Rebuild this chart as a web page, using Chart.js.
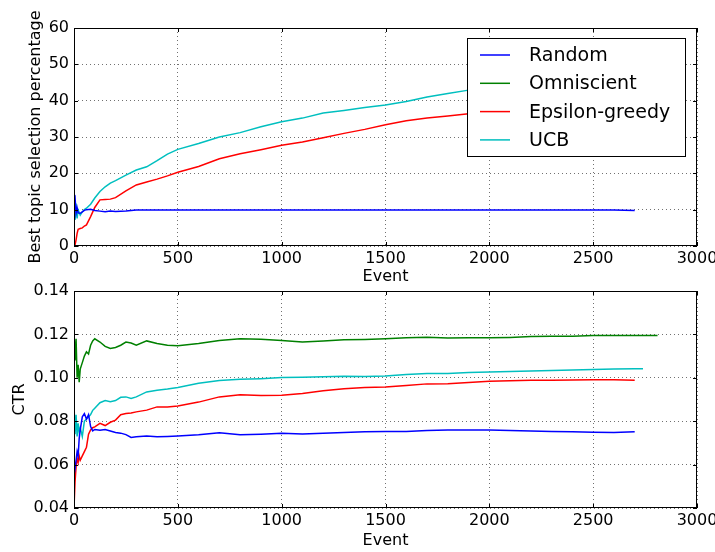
<!DOCTYPE html>
<html>
<head>
<meta charset="utf-8">
<script src="https://cdn.jsdelivr.net/npm/chart.js@4"></script>
<style>
  html, body { margin: 0; padding: 0; background: #fff; }
  #wrap { position: relative; width: 715px; height: 552px; overflow: hidden; }
  canvas { position: absolute; left: 0; }
  #topChart { top: 0; }
  #ctrChart { top: 270px; }
</style>
</head>
<body>
<div id="wrap">
  <canvas id="topChart" width="715" height="290"></canvas>
  <canvas id="ctrChart" width="715" height="282"></canvas>
</div>
<script>
// --- data ---
const seriesNames = ['Random', 'Omniscient', 'Epsilon-greedy', 'UCB'];
const seriesColors = ['#0000ff', '#008000', '#ff0000', '#00bfbf'];

const xTicks = [0, 500, 1000, 1500, 2000, 2500, 3000];
const topYTicks = [0, 10, 20, 30, 40, 50, 60];
const ctrYTicks = [0.04, 0.06, 0.08, 0.10, 0.12, 0.14];

// top plot: best topic selection percentage
const topEvents = [0, 5, 10, 15, 20, 30, 40, 50, 60, 80, 100, 125, 150, 175, 200, 250, 300, 350, 400, 450,
  500, 600, 700, 800, 900, 1000, 1100, 1200, 1300, 1400, 1500, 1600, 1700, 1800, 1900, 2000,
  2100, 2200, 2300, 2400, 2500, 2600, 2700];
const topRandom = [13.0, 13.5, 9.0, 10.5, 9.1, 9.0, 9.4, 9.8, 10.0, 10.1, 9.8, 9.6, 9.4, 9.6, 9.5, 9.6, 9.9, 9.9, 9.9, 9.9,
  9.9, 9.9, 9.9, 9.9, 9.9, 9.9, 9.9, 9.9, 9.9, 9.9, 9.9, 9.9, 9.9, 9.9, 9.9, 9.9,
  9.9, 9.9, 9.9, 9.9, 9.9, 9.9, 9.8];
const topOmniscient = [];
const topEpsilon = [0.0, 0.3, 1.7, 3.5, 4.6, 4.8, 5.0, 5.5, 5.8, 8.1, 10.6, 12.7, 12.8, 12.9, 13.3, 15.2, 16.8, 17.6, 18.4, 19.3,
  20.3, 21.9, 24.0, 25.4, 26.5, 27.7, 28.6, 29.8, 31.0, 32.1, 33.4, 34.5, 35.2, 35.8, 36.4, 37.0,
  37.6, 38.1, 38.6, 39.1, 39.6, 40.1, 40.5];
const topUcb = [13.0, 7.2, 11.7, 7.6, 9.9, 8.5, 9.4, 10.0, 10.4, 11.5, 13.2, 15.0, 16.3, 17.3, 18.0, 19.5, 20.9, 21.8, 23.5, 25.3,
  26.6, 28.2, 30.0, 31.2, 32.8, 34.2, 35.2, 36.6, 37.3, 38.1, 38.8, 39.8, 41.0, 42.0, 42.9, 43.6,
  44.4, 45.1, 45.8, 46.5, 47.2, 47.9, 48.5];

// bottom plot: CTR
const ctrEvents = [0, 5, 10, 15, 20, 25, 30, 40, 50, 60, 70, 80, 90, 100, 125, 150, 175, 200, 225, 250, 275, 300,
  350, 400, 450, 500, 600, 700, 800, 900, 1000, 1100, 1200, 1300, 1400, 1500, 1600, 1700, 1800, 1900,
  2000, 2100, 2200, 2300, 2400, 2500, 2600, 2700, 2740, 2810];
const ctrRandom = [0.055, 0.058, 0.062, 0.066, 0.064, 0.072, 0.076, 0.082, 0.0835, 0.081, 0.083, 0.0775, 0.0755, 0.0762,
  0.0758, 0.0762, 0.0755, 0.0748, 0.0745, 0.0738, 0.0725, 0.0728, 0.0732, 0.0728, 0.073, 0.0732, 0.0738, 0.0747,
  0.0738, 0.074, 0.0744, 0.0741, 0.0745, 0.0748, 0.0751, 0.0753, 0.0753, 0.0757, 0.0759, 0.0759, 0.0759, 0.0757,
  0.0755, 0.0752, 0.0751, 0.0749, 0.0748, 0.0751];
const ctrOmniscient = [0.122, 0.108, 0.118, 0.100, 0.106, 0.098, 0.104, 0.107, 0.110, 0.112, 0.111, 0.115, 0.117, 0.118,
  0.1165, 0.1145, 0.1135, 0.114, 0.115, 0.1165, 0.116, 0.115, 0.117, 0.1158, 0.115, 0.1148, 0.1158, 0.1172,
  0.118, 0.1178, 0.1172, 0.1165, 0.117, 0.1175, 0.1177, 0.118, 0.1185, 0.1187, 0.1183, 0.1184, 0.1184, 0.1186,
  0.119, 0.1192, 0.1192, 0.1195, 0.1195, 0.1195, 0.1195, 0.1195];
const ctrEpsilon = [0.040, 0.052, 0.059, 0.063, 0.061, 0.064, 0.062, 0.064, 0.066, 0.068, 0.074, 0.076, 0.077, 0.0774,
  0.079, 0.078, 0.0795, 0.0805, 0.083, 0.0835, 0.0838, 0.0843, 0.0851, 0.0866, 0.0865, 0.087, 0.0888, 0.0912,
  0.0922, 0.0918, 0.092, 0.0928, 0.094, 0.095, 0.0955, 0.0958, 0.0965, 0.0972, 0.0973, 0.0978, 0.0984, 0.0986,
  0.0989, 0.0989, 0.099, 0.0991, 0.0991, 0.0989];
const ctrUcb = [0.088, 0.074, 0.083, 0.073, 0.079, 0.075, 0.077, 0.073, 0.080, 0.081, 0.082, 0.083, 0.085, 0.086,
  0.0885, 0.0895, 0.089, 0.0895, 0.091, 0.0912, 0.0905, 0.0912, 0.0935, 0.0943, 0.0948, 0.0955, 0.0975, 0.0988,
  0.0993, 0.0996, 0.1001, 0.1002, 0.1005, 0.1007, 0.1006, 0.1008, 0.1015, 0.102, 0.102, 0.1024, 0.1027, 0.1029,
  0.1031, 0.1034, 0.1036, 0.1038, 0.104, 0.1042, 0.1042];

Chart.defaults.font.family = '"DejaVu Sans", sans-serif';
Chart.defaults.color = '#000';

function toPoints(xs, ys) {
  return ys.map((y, i) => ({ x: xs[i], y: y }));
}

function makeDatasets(xs, lists) {
  return lists.map((ys, i) => ({
    label: seriesNames[i],
    data: toPoints(xs, ys),
    borderColor: seriesColors[i],
    backgroundColor: seriesColors[i],
    borderWidth: 1.5,
    pointRadius: 0,
    tension: 0,
    fill: false
  }));
}

// matplotlib-like frame with inward ticks on all four sides
const framePlugin = {
  id: 'frame',
  afterDatasetsDraw(chart) {
    const { ctx, chartArea: a, scales } = chart;
    ctx.save();
    ctx.strokeStyle = '#000';
    ctx.lineWidth = 1;
    ctx.strokeRect(a.left + 0.5, a.top + 0.5, a.right - a.left - 1, a.bottom - a.top - 1);
    ctx.beginPath();
    scales.x.ticks.forEach(t => {
      const px = Math.round(scales.x.getPixelForValue(t.value)) + 0.5;
      ctx.moveTo(px, a.bottom); ctx.lineTo(px, a.bottom - 4);
      ctx.moveTo(px, a.top); ctx.lineTo(px, a.top + 4);
    });
    scales.y.ticks.forEach(t => {
      const py = Math.round(scales.y.getPixelForValue(t.value)) + 0.5;
      ctx.moveTo(a.left, py); ctx.lineTo(a.left + 4, py);
      ctx.moveTo(a.right, py); ctx.lineTo(a.right - 4, py);
    });
    ctx.stroke();
    ctx.restore();
  }
};

// legend box drawn inside the top plot
const boxLegend = {
  id: 'boxLegend',
  afterDraw(chart) {
    if (!chart.options.plugins.boxLegend) return;
    const { ctx } = chart;
    const x = 467, y = 38, w = 218, h = 118;
    ctx.save();
    ctx.fillStyle = '#fff';
    ctx.fillRect(x, y, w, h);
    ctx.strokeStyle = '#000';
    ctx.lineWidth = 1;
    ctx.strokeRect(x + 0.5, y + 0.5, w, h);
    ctx.font = '19px "DejaVu Sans", sans-serif';
    ctx.textBaseline = 'middle';
    chart.data.datasets.forEach((ds, i) => {
      const ry = y + 17 + i * 28.3;
      ctx.strokeStyle = ds.borderColor;
      ctx.lineWidth = 1.5;
      ctx.beginPath();
      ctx.moveTo(480, ry); ctx.lineTo(510, ry);
      ctx.stroke();
      ctx.fillStyle = '#000';
      ctx.fillText(ds.label, 529, ry + 1);
    });
    ctx.restore();
  }
};

function axisOptions(yMin, yMax, yTickList, yTitle, yTitlePad, fmt, xTitlePad) {
  const grid = { color: 'rgba(0,0,0,0.7)', lineWidth: 0.8, drawTicks: false };
  return {
    x: {
      type: 'linear', min: 0, max: 3000,
      afterBuildTicks: s => { s.ticks = xTicks.map(v => ({ value: v })); },
      afterFit: s => { s.height = 44; s.paddingLeft = 0; s.paddingRight = 0; },
      ticks: { padding: 3, font: { size: 16 }, maxRotation: 0, callback: v => String(v) },
      grid: grid,
      border: { display: false, dash: [1, 3] },
      title: { display: true, text: 'Event', font: { size: 16 }, padding: { top: 0, bottom: xTitlePad } }
    },
    y: {
      type: 'linear', min: yMin, max: yMax,
      afterBuildTicks: s => { s.ticks = yTickList.map(v => ({ value: v })); },
      afterFit: s => { s.width = 74; s.paddingTop = 0; s.paddingBottom = 0; },
      ticks: { padding: 5, font: { size: 16 }, callback: fmt },
      grid: grid,
      border: { display: false, dash: [1, 3] },
      title: { display: true, text: yTitle, font: { size: 16 }, padding: { top: yTitlePad, bottom: 0 } }
    }
  };
}

new Chart(document.getElementById('topChart'), {
  type: 'line',
  data: { datasets: makeDatasets(topEvents, [topRandom, topOmniscient, topEpsilon, topUcb]) },
  options: {
    responsive: false,
    animation: false,
    devicePixelRatio: 1,
    layout: { padding: { top: 28, right: 18, bottom: 0, left: 0 } },
    scales: axisOptions(0, 60, topYTicks, 'Best topic selection percentage', 26, v => String(v), 4),
    plugins: { legend: { display: false }, tooltip: { enabled: false }, boxLegend: true }
  },
  plugins: [framePlugin, boxLegend]
});

new Chart(document.getElementById('ctrChart'), {
  type: 'line',
  data: { datasets: makeDatasets(ctrEvents, [ctrRandom, ctrOmniscient, ctrEpsilon, ctrUcb]) },
  options: {
    responsive: false,
    animation: false,
    devicePixelRatio: 1,
    layout: { padding: { top: 21, right: 18, bottom: 0, left: 0 } },
    scales: axisOptions(0.04, 0.14, ctrYTicks, 'CTR', 10, v => v.toFixed(2), 2),
    plugins: { legend: { display: false }, tooltip: { enabled: false } }
  },
  plugins: [framePlugin]
});
</script>
</body>
</html>
